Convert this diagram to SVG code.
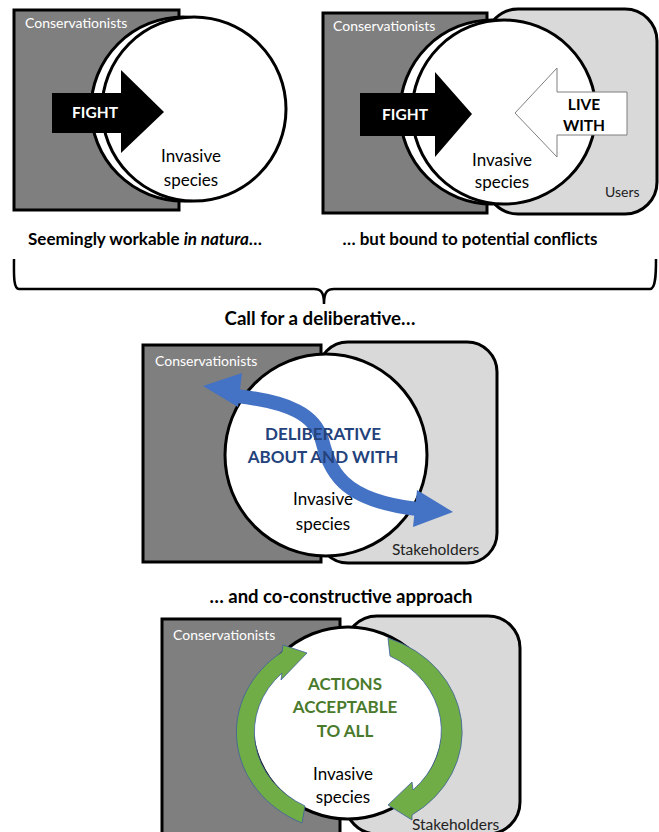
<svg xmlns="http://www.w3.org/2000/svg" width="659" height="832" viewBox="0 0 659 832">
<style>
text{font-family:Lato,"Open Sans","Liberation Sans",sans-serif}
.dark{fill:#7f7f7f;stroke:#000;stroke-width:3}
.light{fill:#d9d9d9;stroke:#000;stroke-width:3}
.circ{fill:#fff;stroke:#000;stroke-width:3}
.cons{fill:#fff;font-size:14px}
.inv{fill:#000;font-size:17px;text-anchor:middle}
.who{fill:#222;font-size:14px}
.stake{fill:#222;font-size:15.5px}
.cap{fill:#000;font-size:17px;font-weight:bold;text-anchor:middle}
.cap2{fill:#000;font-size:18.5px;font-weight:bold;text-anchor:middle}
.act{font-weight:bold;text-anchor:middle}
.green{fill:#70ad47;stroke:#3f5f9f;stroke-width:0.8}
</style>
<rect width="659" height="832" fill="#fff"/>

<g id="panel1">
  <rect class="dark" x="14" y="10" width="165" height="200"/>
  <text class="cons" x="25" y="28">Conservationists</text>
  <circle class="circ" cx="183" cy="109" r="92"/>
  <circle class="circ" cx="194" cy="109" r="92"/>
  <polygon points="52,93 121,93 121,70 164,112 121,153 121,133 52,133" fill="#000"/>
  <text x="95" y="118" fill="#fff" font-size="15.5" class="act">FIGHT</text>
  <text class="inv" x="191" y="162">Invasive</text>
  <text class="inv" x="191" y="186">species</text>
</g>
<text id="caption1" class="cap" x="145" y="245" textLength="234" lengthAdjust="spacingAndGlyphs">Seemingly workable <tspan font-style="italic">in natura</tspan>…</text>

<g id="panel2">
  <rect class="light" x="486" y="9" width="171" height="205" rx="32"/>
  <rect class="dark" x="323" y="13" width="164" height="200"/>
  <text class="cons" x="333" y="31">Conservationists</text>
  <circle class="circ" cx="492" cy="112" r="92"/>
  <circle class="circ" cx="504" cy="112" r="92"/>
  <polygon points="360,93 435,93 435,72 472,114 435,157 435,136 360,136" fill="#000"/>
  <text x="405" y="120" fill="#fff" font-size="15.5" class="act">FIGHT</text>
  <polygon points="627,92 557,92 557,68 515,113 557,157 557,135 627,135" fill="#fff" stroke="#7f7f7f" stroke-width="1"/>
  <text x="584" y="110" fill="#000" font-size="15.5" class="act">LIVE</text>
  <text x="584" y="131" fill="#000" font-size="15.5" class="act">WITH</text>
  <text class="inv" x="502" y="166">Invasive</text>
  <text class="inv" x="502" y="188">species</text>
  <text class="who" x="605" y="197">Users</text>
</g>
<text id="caption2" class="cap" x="470" y="245" textLength="255" lengthAdjust="spacingAndGlyphs">… but bound to potential conflicts</text>

<g id="brace">
  <path d="M14,259 C14,272 13,289 19,289 L314,289 C320,289 324,291 324,304 C324,291 328,289 334,289 L650,289 C656,289 656,272 656,259" fill="none" stroke="#000" stroke-width="2.5"/>
</g>

<text id="caption3" class="cap2" x="320" y="325" textLength="191" lengthAdjust="spacingAndGlyphs">Call for a deliberative…</text>
<g id="panel3">
  <rect class="light" x="318" y="342" width="179" height="221" rx="30"/>
  <rect class="dark" x="143" y="345" width="178" height="217"/>
  <text class="cons" x="155" y="366">Conservationists</text>
  <circle class="circ" cx="326" cy="455" r="101"/>
  <text class="stake" x="392" y="555">Stakeholders</text>
</g>
<g id="connectors">
  <g id="blue-arrow" fill="#4472c4">
    <path d="M236,396 C290,402 315,415 322,440 C330,470 340,500 417,509" fill="none" stroke="#4472c4" stroke-width="14"/>
    <polygon points="203,386 242,373 238,407"/>
    <polygon points="453,512 417,490 413,527"/>
  </g>
  <g id="green-arrows">
    <path class="green" d="M302,823 A113,100 0 0 1 282,652 L283,645 L307,653 L281,680 L282,673 A96,84 0 0 0 305,806 Z"/>
    <path class="green" d="M388,638 A113,100 0 0 1 412,815 L412,820 L388,805 L412,782 L413,790 A96,84 0 0 0 390,656 Z"/>
  </g>
</g>
<g id="panel3-text">
  <text x="323" y="440" fill="#24427c" font-size="17" class="act">DELIBERATIVE</text>
  <text x="323" y="463" fill="#24427c" font-size="17" class="act">ABOUT AND WITH</text>
  <text class="inv" x="323" y="505">Invasive</text>
  <text class="inv" x="323" y="530">species</text>
</g>

<text id="caption4" class="cap2" x="341" y="603" textLength="263" lengthAdjust="spacingAndGlyphs">… and co-constructive approach</text>
<g id="panel4">
  <rect class="light" x="345" y="616" width="175" height="218" rx="32"/>
  <rect class="dark" x="162" y="619" width="178" height="230"/>
  <text class="cons" x="173" y="640">Conservationists</text>
  <circle class="circ" cx="348" cy="723" r="96"/>
  <use href="#green-arrows"/>
  <text x="345" y="690" fill="#4a7a2c" font-size="17" class="act">ACTIONS</text>
  <text x="345" y="713" fill="#4a7a2c" font-size="17" class="act">ACCEPTABLE</text>
  <text x="345" y="737" fill="#4a7a2c" font-size="17" class="act">TO ALL</text>
  <text class="inv" x="343" y="780">Invasive</text>
  <text class="inv" x="343" y="803">species</text>
  <text class="stake" x="412" y="830">Stakeholders</text>
</g>
</svg>
